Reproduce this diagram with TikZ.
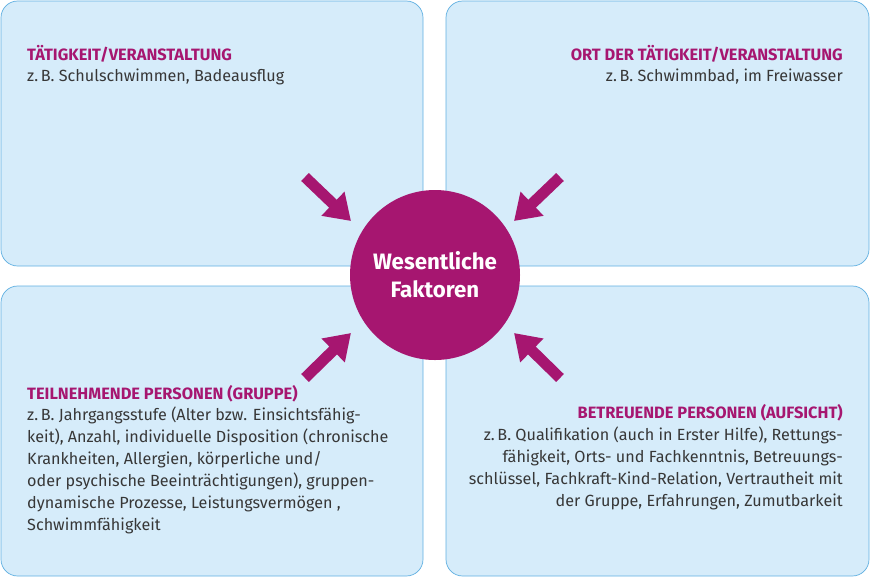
\documentclass[tikz,border=0pt]{standalone}
\usepackage{fontspec}
\setmainfont{Fira Sans}
\usetikzlibrary{arrows.meta, positioning}
\definecolor{boxfill}{RGB}{214, 236, 250}
\definecolor{boxline}{RGB}{95, 175, 225}
\definecolor{factpurple}{RGB}{166, 22, 112}
\definecolor{bodygray}{RGB}{55, 55, 55}

\begin{document}
\begin{tikzpicture}[x=0.03cm, y=-0.03cm,
  areabox/.style={fill=boxfill, draw=boxline, line width=0.6pt, rounded corners=0.5cm},
  headtxt/.style={font=\fontsize{14}{18.7}\selectfont\bfseries, text=factpurple, inner sep=0pt},
  bodytxt/.style={font=\fontsize{13.8}{18.7}\selectfont, text=bodygray, inner sep=0pt},
  pusharrow/.style={factpurple, line width=0.33cm, -{Triangle[width=0.95cm, length=0.75cm]}},
]
  \useasboundingbox (0,0) rectangle (870,577);

  % Boxes
  \draw[areabox] (1,1) rectangle (423,266);
  \draw[areabox] (446,1) rectangle (869,266);
  \draw[areabox] (1,286) rectangle (423,576);
  \draw[areabox] (446,286) rectangle (869,576);

  % Centre
  \node[circle, fill=factpurple, minimum size=5.1cm, align=center, text=white,
        font=\fontsize{19}{24}\selectfont\bfseries] (fact) at (435,275) {Wesentliche\\Faktoren};

  % Arrows
  \coordinate (tl) at (305,177);  \coordinate (tltip) at (351,221);
  \coordinate (tr) at (560,177);  \coordinate (trtip) at (514,221);
  \coordinate (bl) at (305,378);  \coordinate (bltip) at (351,333);
  \coordinate (br) at (560,378);  \coordinate (brtip) at (514,333);
  \draw[pusharrow] (tl) -- (tltip);
  \draw[pusharrow] (tr) -- (trtip);
  \draw[pusharrow] (bl) -- (bltip);
  \draw[pusharrow] (br) -- (brtip);

  % Texts
  \node[headtxt, anchor=base west] (h1) at (27,60) {TÄTIGKEIT/VERANSTALTUNG};
  \node[bodytxt, anchor=base west] (t1) at (27,81) {z.\,B. Schulschwimmen, Badeausflug};

  \node[headtxt, anchor=base east] (h2) at (843,60) {ORT DER TÄTIGKEIT/VERANSTALTUNG};
  \node[bodytxt, anchor=base east] (t2) at (843,81) {z.\,B. Schwimmbad, im Freiwasser};

  \node[headtxt, anchor=base west] (h3) at (27,399) {TEILNEHMENDE PERSONEN (GRUPPE)};
  \node[bodytxt, anchor=north west, align=left] (t3) at (27,407)
    {z.\,B. Jahrgangsstufe (Alter bzw. Einsichtsfähig-\\
     keit), Anzahl, individuelle Disposition (chronische\\
     Krankheiten, Allergien, körperliche und/\\
     oder psychische Beeinträchtigungen), gruppen-\\
     dynamische Prozesse, Leistungsvermögen ,\\
     Schwimmfähigkeit};

  \node[headtxt, anchor=base east] (h4) at (843,418) {BETREUENDE PERSONEN (AUFSICHT)};
  \node[bodytxt, anchor=north east, align=right] (t4) at (843,427)
    {z.\,B. Qualifikation (auch in Erster Hilfe), Rettungs-\\
     fähigkeit, Orts- und Fachkenntnis, Betreuungs-\\
     schlüssel, Fachkraft-Kind-Relation, Vertrautheit mit\\
     der Gruppe, Erfahrungen, Zumutbarkeit};
\end{tikzpicture}
\end{document}
